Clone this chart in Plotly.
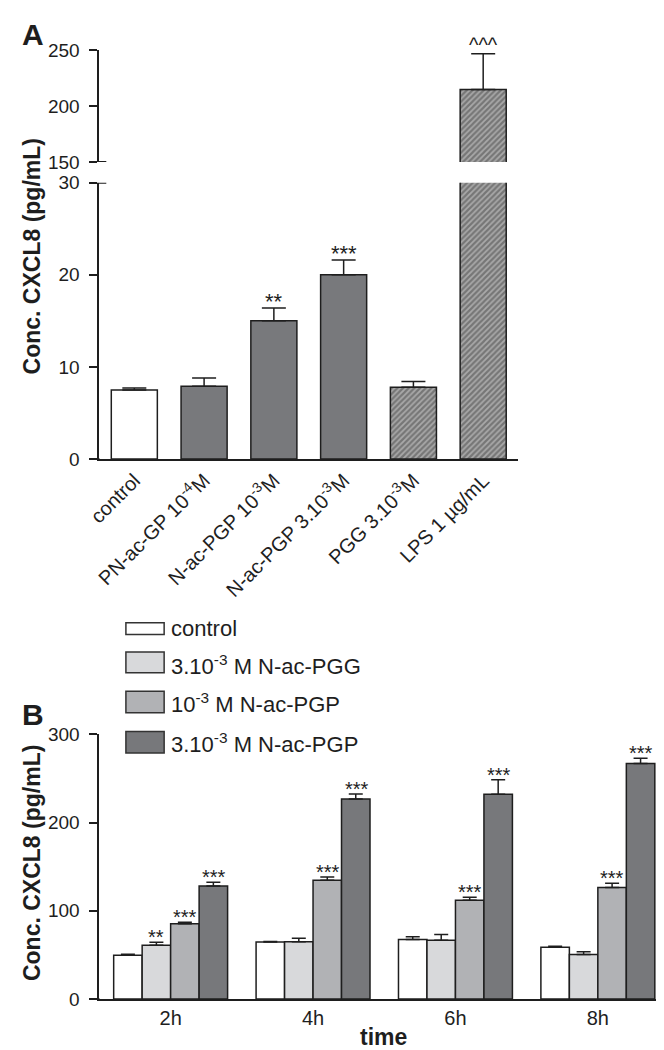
import plotly.graph_objects as go

W, H = 664, 1050


def fx(p):
    return p / W


def fy(p):
    return 1 - p / H


FONT = "Liberation Sans, Arial, Helvetica, sans-serif"
INK = "#1e1e1e"

# ---------------- Panel A data ----------------
cats_a = [
    "control",
    "PN-ac-GP 10<sup>-4</sup>M",
    "N-ac-PGP 10<sup>-3</sup>M",
    "N-ac-PGP 3.10<sup>-3</sup>M",
    "PGG 3.10<sup>-3</sup>M",
    "LPS 1 µg/mL",
]
vals_a = [7.5, 7.9, 15.0, 20.0, 7.8, 215.0]
errs_a = [0.2, 0.9, 1.4, 1.6, 0.6, 32.0]
sig_a = ["", "", "**", "***", "", "^^^"]
colors_a = ["#ffffff", "#78797c", "#78797c", "#78797c", "#a9a9a9", "#a9a9a9"]
hatch_a = ["", "", "", "", "/", "/"]
ticks_a_low = [0, 10, 20, 30]
ticks_a_high = [150, 200, 250]

# ---------------- Panel B data ----------------
times = ["2h", "4h", "6h", "8h"]
series_b = ["control", "3.10<sup>-3</sup> M N-ac-PGG", "10<sup>-3</sup> M N-ac-PGP", "3.10<sup>-3</sup> M N-ac-PGP"]
control_b = [49.5, 64.5, 67.5, 58.7]
control_err = [1.2, 0.6, 3.0, 1.2]
pgg_b = [61.0, 65.0, 66.5, 50.5]
pgg_err = [3.4, 3.8, 6.7, 3.0]
pgp_b = [85.3, 134.5, 111.8, 126.5]
pgp_err = [1.8, 3.7, 3.6, 4.6]
pgp3_b = [128.0, 226.8, 232.0, 266.9]
pgp3_err = [4.3, 5.5, 16.7, 6.0]
sig_b = [["", "", "", ""], ["**", "", "", ""], ["***", "***", "***", "***"], ["***", "***", "***", "***"]]
colors_b = ["#ffffff", "#d8d9db", "#b1b2b5", "#77787b"]
ticks_b = [0, 100, 200, 300]

vals_b = [control_b, pgg_b, pgp_b, pgp3_b]
errs_b = [control_err, pgg_err, pgp_err, pgp3_err]

# ---------------- geometry ----------------
xa_dom = [fx(80), fx(507)]
ya_low = [fy(450), fy(168)]
ya_high = [fy(147), fy(33)]
xb_dom = [fx(80), fx(661)]
yb_dom = [fy(1001), fy(731)]
BARGAP_B = 0.2

fig = go.Figure()

bar_line = dict(color=INK, width=1.5)
pattern = dict(shape=hatch_a, fgcolor="#333333", bgcolor="#a9a9a9", size=4, solidity=0.55)

for xa, ya in (("x", "y"), ("x2", "y2")):
    fig.add_trace(go.Bar(
        x=cats_a, y=vals_a, xaxis=xa, yaxis=ya, width=0.66,
        marker=dict(color=colors_a, line=bar_line, pattern=pattern),
        error_y=dict(type="data", array=errs_a, arrayminus=[0] * len(errs_a), symmetric=False,
                     color=INK, thickness=1.5, width=12),
        showlegend=False, hoverinfo="skip",
    ))

for i, name in enumerate(series_b):
    fig.add_trace(go.Bar(
        x=times, y=vals_b[i], name=name, xaxis="x3", yaxis="y3",
        marker=dict(color=colors_b[i], line=bar_line),
        error_y=dict(type="data", array=errs_b[i], arrayminus=[0] * len(times), symmetric=False,
                     color=INK, thickness=1.5, width=7),
        showlegend=False, hoverinfo="skip",
    ))

axis_common = dict(showline=True, linecolor=INK, linewidth=2, showgrid=False, zeroline=False,
                   tickfont=dict(family=FONT, size=19, color=INK))
yaxis_common = dict(axis_common, ticks="outside", ticklen=8, tickwidth=2, tickcolor=INK,
                    ticklabelstandoff=6)

fig.update_layout(
    width=W, height=H, margin=dict(l=0, r=0, t=0, b=0),
    paper_bgcolor="white", plot_bgcolor="white",
    barmode="group", bargap=BARGAP_B, bargroupgap=0,
    font=dict(family=FONT, color=INK),
    xaxis=dict(axis_common, domain=xa_dom, anchor="y", range=[-0.5, 5.5], ticks="",
               tickangle=-45, tickfont=dict(family=FONT, size=20, color=INK)),
    yaxis=dict(yaxis_common, domain=ya_low, anchor="x", range=[0, 30], tickvals=ticks_a_low),
    xaxis2=dict(domain=xa_dom, anchor="y2", range=[-0.5, 5.5], visible=False),
    yaxis2=dict(yaxis_common, domain=ya_high, anchor="x2", range=[150, 250], tickvals=ticks_a_high),
    xaxis3=dict(axis_common, domain=xb_dom, anchor="y3", ticks="",
                tickfont=dict(family=FONT, size=20, color=INK)),
    yaxis3=dict(yaxis_common, domain=yb_dom, anchor="x3", range=[0, 300], tickvals=ticks_b),
)

annotations = []
shapes = []

# significance marks, panel A
for i, s in enumerate(sig_a):
    if not s:
        continue
    top = vals_a[i] + errs_a[i]
    yref = "y2" if top > 30 else "y"
    annotations.append(dict(x=cats_a[i], y=top, xref="x", yref=yref, text=s, showarrow=False,
                            yanchor="bottom", yshift=-8 if s != "^^^" else -4,
                            font=dict(family=FONT, size=22 if s != "^^^" else 20, color=INK)))

# significance marks, panel B (offset inside each group)
cat_px = (xb_dom[1] - xb_dom[0]) * W / len(times)
bar_px = cat_px * (1 - BARGAP_B) / len(series_b)
for i in range(len(series_b)):
    for j, t in enumerate(times):
        s = sig_b[i][j]
        if not s:
            continue
        annotations.append(dict(x=t, y=vals_b[i][j] + errs_b[i][j], xref="x3", yref="y3", text=s,
                                showarrow=False, yanchor="bottom", yshift=-8,
                                xshift=(i - (len(series_b) - 1) / 2) * bar_px,
                                font=dict(family=FONT, size=20, color=INK)))

# axis titles and panel letters
title_font = dict(family=FONT, size=23, color=INK)
annotations += [
    dict(x=fx(11), y=fy(243.5), xref="paper", yref="paper", text="<b>Conc. CXCL8 (pg/mL)</b>",
         textangle=-90, showarrow=False, xanchor="center", yanchor="middle", font=title_font),
    dict(x=fx(11), y=fy(862.5), xref="paper", yref="paper", text="<b>Conc. CXCL8 (pg/mL)</b>",
         textangle=-90, showarrow=False, xanchor="center", yanchor="middle", font=title_font),
    dict(x=fx(370), y=fy(1040), xref="paper", yref="paper", text="<b>time</b>",
         showarrow=False, xanchor="center", yanchor="middle", font=title_font),
    dict(x=fx(-1), y=fy(17), xref="paper", yref="paper", text="<b>A</b>", showarrow=False,
         xanchor="left", yanchor="middle", font=dict(family=FONT, size=30, color=INK)),
    dict(x=fx(-1), y=fy(711), xref="paper", yref="paper", text="<b>B</b>", showarrow=False,
         xanchor="left", yanchor="middle", font=dict(family=FONT, size=30, color=INK)),
]

# legend for panel B (drawn manually)
leg_boxes = [(617, 629), (647, 668), (687, 709), (728, 750)]
leg_text_y = [623, 660, 699, 740]
for i, name in enumerate(series_b):
    y0, y1 = leg_boxes[i]
    shapes.append(dict(type="rect", xref="paper", yref="paper", x0=fx(107), x1=fx(146),
                       y0=fy(y1), y1=fy(y0), fillcolor=colors_b[i], line=dict(color="#333333", width=1.5)))
    annotations.append(dict(x=fx(151), y=fy(leg_text_y[i]), xref="paper", yref="paper", text=name,
                            showarrow=False, xanchor="left", yanchor="middle",
                            font=dict(family=FONT, size=22, color=INK)))

# axis-break caps and left axis stubs
line_style = dict(color=INK, width=2)
shapes += [
    dict(type="line", xref="paper", yref="y2", x0=fx(72), x1=fx(87), y0=150, y1=150, line=line_style),
    dict(type="line", xref="paper", yref="y", x0=fx(72), x1=fx(87), y0=30, y1=30, line=line_style),
    dict(type="line", xref="paper", yref="y", x0=fx(72), x1=fx(80), y0=0, y1=0, line=line_style),
    dict(type="line", xref="paper", yref="y3", x0=fx(72), x1=fx(80), y0=0, y1=0, line=line_style),
]

fig.update_layout(annotations=annotations, shapes=shapes)
fig.write_html("out.html")
